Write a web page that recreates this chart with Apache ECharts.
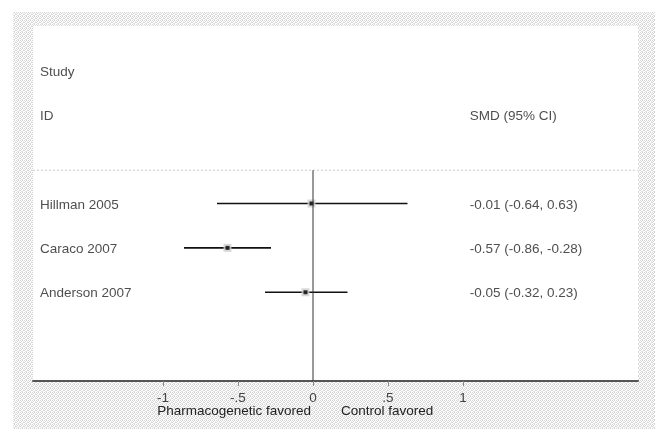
<!DOCTYPE html>
<html><head><meta charset="utf-8">
<script src="https://cdn.jsdelivr.net/npm/echarts@6/dist/echarts.min.js"></script>
<style>html,body{margin:0;padding:0;background:#fff}#c{width:657px;height:429px}</style>
</head><body><div id="c"></div>
<script>
// ---- data ----
const studies = ['Hillman 2005', 'Caraco 2007', 'Anderson 2007'];
const smd = [-0.01, -0.57, -0.05];
const ciLow = [-0.64, -0.86, -0.32];
const ciHigh = [0.63, -0.28, 0.23];
const tickValues = [-1, -0.5, 0, 0.5, 1];
const tickLabels = ['-1', '-.5', '0', '.5', '1'];
const headerLeft = ['Study', 'ID'];
const headerRight = ['SMD (95% CI)'];
const favourLabels = ['Pharmacogenetic favored', 'Control favored'];

// ---- layout constants ----
const X_MIN = -280 / 150, X_MAX = 325 / 150;
const Y_MIN = -3, Y_MAX = 5, SEP_Y = 0.25;
const RIGHT_COL_X = 1.045;
const FONT = '"Liberation Sans", Arial, sans-serif';
const FS = 13.5;
const TXT = '#222';

const fmt = (v, d) => v.toFixed(d);
const ciText = studies.map((s, i) => fmt(smd[i], 2) + ' (' + fmt(ciLow[i], 2) + ', ' + fmt(ciHigh[i], 2) + ')');

// dotted background pattern
const pc = document.createElement('canvas');
pc.width = 4; pc.height = 4;
const pctx = pc.getContext('2d');
pctx.fillStyle = '#ffffff'; pctx.fillRect(0, 0, 4, 4);
pctx.fillStyle = '#d6d6d6';
[[0,0],[2,0],[1,1],[3,2],[0,2],[2,3]].forEach(p => pctx.fillRect(p[0], p[1], 1, 1));
pctx.fillStyle = '#e6e6e6';
[[3,1],[1,3]].forEach(p => pctx.fillRect(p[0], p[1], 1, 1));

const chart = echarts.init(document.getElementById('c'), null, {renderer: 'canvas'});

const leftTextData = headerLeft.map((t, i) => ({value: [X_MIN, i - 2], name: t}))
  .concat(studies.map((s, i) => ({value: [X_MIN, i + 1], name: s})));
const rightTextData = headerRight.map(t => ({value: [RIGHT_COL_X, -1], name: t}))
  .concat(ciText.map((t, i) => ({value: [RIGHT_COL_X, i + 1], name: t})));

const textLabel = {
  show: true, position: 'right', distance: 7, offset: [0, 1.5],
  formatter: p => p.name, color: TXT, fontSize: FS, fontFamily: FONT
};

chart.setOption({
  animation: false,
  backgroundColor: '#fff',
  grid: {left: 33, right: 19, top: 26, bottom: 48, show: false},
  xAxis: {
    type: 'value', min: X_MIN, max: X_MAX,
    splitLine: {show: false},
    axisLine: {show: true, onZero: false, lineStyle: {color: '#555', width: 2}},
    axisTick: {show: true, customValues: tickValues, length: 5, lineStyle: {color: '#888', width: 1}},
    axisLabel: {
      customValues: tickValues, margin: 10, fontSize: FS, fontFamily: FONT, color: '#444',
      formatter: v => tickLabels[tickValues.indexOf(v)] ?? ''
    }
  },
  yAxis: {type: 'value', inverse: true, min: Y_MIN, max: Y_MAX, show: false},
  graphic: [
    {type: 'rect', z: -100, silent: true, shape: {x: 13, y: 12, width: 642, height: 417},
     style: {fill: {image: pc, repeat: 'repeat'}}},
    {type: 'rect', z: -99, silent: true, shape: {x: 33, y: 26, width: 605, height: 355},
     style: {fill: '#ffffff'}},
    {type: 'text', z: 10, x: 311, y: 411,
     style: {text: favourLabels[0], fill: TXT, font: FS + 'px ' + FONT, align: 'right', verticalAlign: 'middle'}},
    {type: 'text', z: 10, x: 341, y: 411,
     style: {text: favourLabels[1], fill: TXT, font: FS + 'px ' + FONT, align: 'left', verticalAlign: 'middle'}}
  ],
  series: [
    { // header separator
      type: 'line', symbol: 'none', silent: true,
      data: [[X_MIN, SEP_Y], [X_MAX, SEP_Y]],
      lineStyle: {color: '#c8c8c8', width: 1, type: [2, 2]}
    },
    { // line of no effect
      type: 'line', symbol: 'none', silent: true,
      data: [[0, SEP_Y], [0, Y_MAX]],
      lineStyle: {color: '#333', width: 1}
    },
    { // confidence intervals
      type: 'custom', silent: true,
      data: studies.map((s, i) => [ciLow[i], ciHigh[i], i + 1]),
      renderItem: (params, api) => {
        const a = api.coord([api.value(0), api.value(2)]);
        const b = api.coord([api.value(1), api.value(2)]);
        return {type: 'line', shape: {x1: a[0], y1: a[1], x2: b[0], y2: b[1]},
                style: {stroke: '#111', lineWidth: 1.6}};
      }
    },
    { // weight box halo
      type: 'scatter', symbol: 'rect', symbolSize: 8, silent: true,
      data: studies.map((s, i) => [smd[i], i + 1]),
      itemStyle: {color: '#cfcfcf'}
    },
    { // point estimate
      type: 'scatter', symbol: 'rect', symbolSize: 4, silent: true,
      data: studies.map((s, i) => [smd[i], i + 1]),
      itemStyle: {color: '#000'}
    },
    { // left column text
      type: 'scatter', symbolSize: 0, silent: true,
      data: leftTextData, label: textLabel
    },
    { // right column text
      type: 'scatter', symbolSize: 0, silent: true,
      data: rightTextData, label: Object.assign({}, textLabel, {distance: 0})
    }
  ]
});
</script>
</body></html>
